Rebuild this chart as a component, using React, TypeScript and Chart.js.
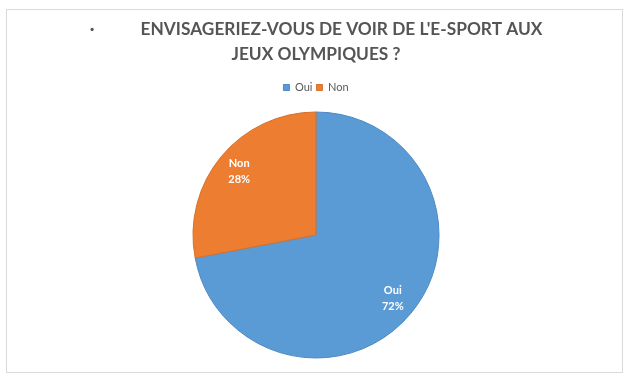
import React, { useEffect, useRef } from "react";
import { Chart, registerables } from "chart.js";

Chart.register(...registerables);

const categories = ["Oui", "Non"];
const values = [72, 28];
const colors = ["#5B9BD5", "#ED7D31"];
const borderColors = ["#4f8ac4", "#d97029"];
const titleLines = ["·           ENVISAGERIEZ-VOUS DE VOIR DE L'E-SPORT AUX", "JEUX OLYMPIQUES ?"];

const framePlugin = {
  id: "frame",
  beforeDraw(chart: any) {
    const ctx = chart.ctx;
    ctx.save();
    ctx.fillStyle = "#ffffff";
    ctx.fillRect(0, 0, chart.width, chart.height);
    ctx.strokeStyle = "#d9d9d9";
    ctx.lineWidth = 1;
    ctx.strokeRect(6.5, 9.5, chart.width - 16, chart.height - 20);
    ctx.restore();
  },
};

const labelPlugin = {
  id: "sliceLabels",
  afterDatasetsDraw(chart: any) {
    const ctx = chart.ctx;
    const meta = chart.getDatasetMeta(0);
    const total = values.reduce((a, b) => a + b, 0);
    ctx.save();
    ctx.fillStyle = "#ffffff";
    ctx.font = "bold 11px Lato";
    ctx.textAlign = "center";
    ctx.textBaseline = "middle";
    meta.data.forEach((arc: any, i: number) => {
      const p = arc.getProps(["startAngle", "endAngle", "outerRadius", "x", "y"], true);
      const mid = (p.startAngle + p.endAngle) / 2;
      const r = p.outerRadius * 0.81;
      const x = p.x + Math.cos(mid) * r;
      const y = p.y + Math.sin(mid) * r;
      const pct = Math.round((values[i] / total) * 100) + "%";
      ctx.fillText(categories[i], x, y - 8);
      ctx.fillText(pct, x, y + 8);
    });
    ctx.restore();
  },
};

export default function App() {
  const ref = useRef<HTMLCanvasElement>(null);
  useEffect(() => {
    document.body.style.margin = "0";
    const chart = new Chart(ref.current!, {
      type: "pie",
      data: {
        labels: categories,
        datasets: [
          {
            data: values,
            backgroundColor: colors,
            borderColor: borderColors,
            borderWidth: 1,
            radius: 123,
          },
        ],
      },
      options: {
        animation: false,
        responsive: false,
        events: [],
        layout: { padding: { top: 0, bottom: 16, left: 0, right: 0 } },
        plugins: {
          title: {
            display: true,
            text: titleLines,
            color: "#555555",
            font: { family: "Lato", size: 17.3, weight: "bold", lineHeight: 25 / 17.3 },
            padding: { top: 17, bottom: 11 },
          },
          legend: {
            display: true,
            position: "top",
            labels: {
              boxWidth: 6,
              boxHeight: 6,
              padding: 4,
              color: "#595959",
              font: { family: "Lato", size: 11 },
            },
          },
          tooltip: { enabled: false },
        },
      },
      plugins: [framePlugin, labelPlugin],
    });
    return () => chart.destroy();
  }, []);
  return (
    <div style={{ width: 632, height: 383 }}>
      <canvas ref={ref} width={632} height={383} />
    </div>
  );
}
